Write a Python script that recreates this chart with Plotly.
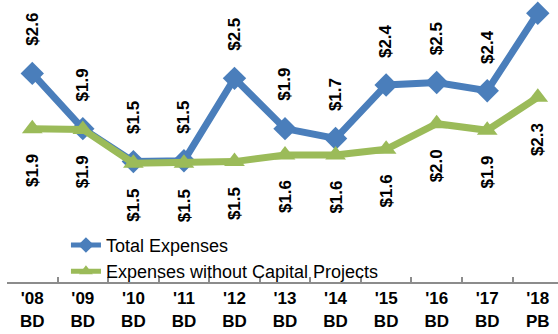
import plotly.graph_objects as go

categories = ["'08<br>BD", "'09<br>BD", "'10<br>BD", "'11<br>BD", "'12<br>BD", "'13<br>BD",
              "'14<br>BD", "'15<br>BD", "'16<br>BD", "'17<br>BD", "'18<br>PB"]
total_expenses = [2.59, 1.92, 1.52, 1.53, 2.53, 1.92, 1.80, 2.45, 2.48, 2.38, 3.32]
expenses_wo_capital = [1.92, 1.91, 1.50, 1.50, 1.52, 1.60, 1.60, 1.67, 1.98, 1.90, 2.30]
total_labels = ["$2.6", "$1.9", "$1.5", "$1.5", "$2.5", "$1.9", "$1.7", "$2.4", "$2.5", "$2.4", None]
wo_capital_labels = ["$1.9", "$1.9", "$1.5", "$1.5", "$1.5", "$1.6", "$1.6", "$1.6", "$2.0", "$1.9", "$2.3"]

BLUE = "#4A7EBB"
GREEN = "#9BBB59"
FONT = "Liberation Sans, Arial, sans-serif"

fig = go.Figure()
fig.add_trace(go.Scatter(
    x=categories, y=total_expenses, name="Total Expenses", mode="lines+markers",
    line=dict(color=BLUE, width=7),
    marker=dict(symbol="diamond", size=18, color=BLUE),
    cliponaxis=False,
))
fig.add_trace(go.Scatter(
    x=categories, y=expenses_wo_capital, name="Expenses without Capital Projects", mode="lines+markers",
    line=dict(color=GREEN, width=7),
    marker=dict(symbol="triangle-up", size=18, color=GREEN),
    cliponaxis=False,
))

annotations = []
for c, v, t in zip(categories, total_expenses, total_labels):
    if t is None:
        continue
    annotations.append(dict(x=c, y=v, text=f"<b>{t}</b>", textangle=-90, showarrow=False,
                            yshift=44, font=dict(size=17, color="black", family=FONT)))
for c, v, t in zip(categories, expenses_wo_capital, wo_capital_labels):
    annotations.append(dict(x=c, y=v, text=f"<b>{t}</b>", textangle=-90, showarrow=False,
                            yshift=-42, font=dict(size=17, color="black", family=FONT)))

fig.update_layout(
    width=558, height=334,
    margin=dict(l=7, r=0, t=0, b=52),
    paper_bgcolor="white", plot_bgcolor="white",
    font=dict(family=FONT, color="black"),
    annotations=annotations,
    showlegend=True,
    legend=dict(x=0.107, y=0.196, xanchor="left", yanchor="top",
                bgcolor="rgba(0,0,0,0)", font=dict(size=18, color="black", family=FONT),
                tracegroupgap=0, itemsizing="constant"),
    xaxis=dict(type="category", range=[-0.5, 10.4], showgrid=False, zeroline=False,
               showline=True, linecolor="#8C8C8C", linewidth=2,
               ticks="inside", ticklen=5, tickcolor="#8C8C8C", tickwidth=2,
               tickson="boundaries",
               tickfont=dict(size=17, color="black", family=FONT)),
    yaxis=dict(range=[0.06, 3.48], visible=False, showgrid=False, zeroline=False),
)
fig.update_xaxes(tickprefix="<b>", ticksuffix="</b>")

fig.write_html("out.html",
               config={"displayModeBar": False},
               post_script="document.body.style.margin='0';document.body.style.overflow='hidden';")
